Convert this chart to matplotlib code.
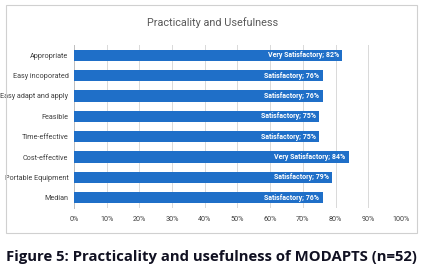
import matplotlib
matplotlib.use("Agg")
import matplotlib.pyplot as plt
from matplotlib.patches import Rectangle

# data (top to bottom)
categories = ["Appropriate", "Easy incoporated", "Easy adapt and apply", "Feasible",
              "Time-effective", "Cost-effective", "Portable Equipment", "Median"]
values = [82, 76, 76, 75, 75, 84, 79, 76]
ratings = ["Very Satisfactory", "Satisfactory", "Satisfactory", "Satisfactory",
           "Satisfactory", "Very Satisfactory", "Satisfactory", "Satisfactory"]
xticks = [0, 10, 20, 30, 40, 50, 60, 70, 80, 90, 100]

narrow = ["DejaVu Sans Condensed", "Liberation Sans Narrow", "Roboto", "DejaVu Sans"]

fig = plt.figure(figsize=(4.26, 2.75), dpi=100)
W, H = 426, 275
ax = fig.add_axes([74 / W, 1 - 208 / H, (401 - 74) / W, (208 - 45) / H])

ypos = list(range(len(categories)))
ax.barh(ypos, values, height=0.55, color="#1f6fc8", zorder=3)
for y, v, r in zip(ypos, values, ratings):
    ax.text(v - 1.0, y, f"{r}; {v}%", ha="right", va="center", color="white",
            fontsize=5.0, family=narrow, fontweight="bold", zorder=4)

ax.set_xlim(0, 100)
ax.set_ylim(len(categories) - 0.5, -0.5)
ax.set_yticks(ypos)
ax.set_yticklabels(categories, family=narrow, fontsize=5.2, color="#404040")
ax.set_xticks(xticks)
ax.set_xticklabels([f"{t}%" for t in xticks], family=narrow, fontsize=5.2, color="#404040")
ax.tick_params(length=0, pad=6)
ax.tick_params(axis="y", pad=4)
ax.grid(axis="x", color="#d9d9d9", linewidth=0.7, zorder=0)
for s in ["top", "right", "bottom"]:
    ax.spines[s].set_visible(False)
ax.spines["left"].set_color("#bfbfbf")
ax.spines["left"].set_linewidth(0.7)

# chart border
fig.add_artist(Rectangle((6 / W, 1 - 233 / H), (417 - 6) / W, (233 - 5) / H,
                         transform=fig.transFigure, fill=False,
                         edgecolor="#d0d0d0", linewidth=0.8))

fig.text(213 / W, 1 - 23 / H, "Practicality and Usefulness", ha="center", va="center",
         fontsize=7.8, color="#595959", family=narrow)

fig.text(6 / W, 1 - 257 / H, "Figure 5: Practicality and usefulness of MODAPTS (n=52)",
         ha="left", va="center", fontsize=10.7, fontweight="bold", color="#111122",
         family=["Open Sans", "DejaVu Sans"])

fig.savefig("out.png", dpi=100)
